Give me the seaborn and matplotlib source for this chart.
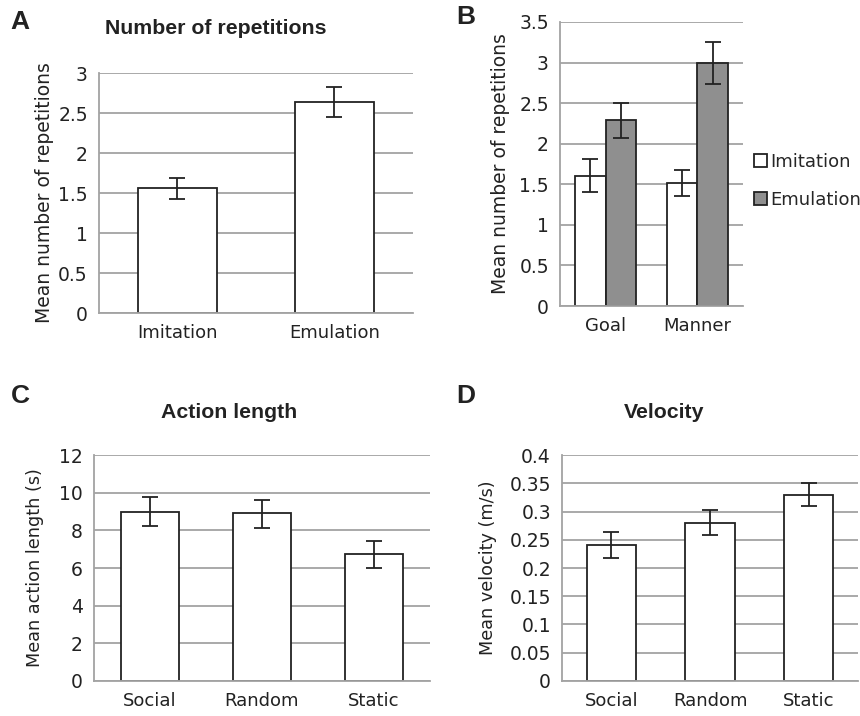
import numpy as np
import pandas as pd
import seaborn as sns
import matplotlib.pyplot as plt

# panel A
reps_cond = ['Imitation', 'Emulation']
reps_mean = [1.56, 2.64]
reps_lo = [1.43, 2.45]
reps_hi = [1.69, 2.82]

# panel B
task = ['Goal', 'Manner']
b_imit_mean = [1.60, 1.51]
b_imit_lo = [1.40, 1.35]
b_imit_hi = [1.81, 1.67]
b_emul_mean = [2.29, 3.00]
b_emul_lo = [2.07, 2.73]
b_emul_hi = [2.50, 3.25]

# panels C and D
stim = ['Social', 'Random', 'Static']
len_mean = [9.0, 8.9, 6.75]
len_lo = [8.25, 8.15, 6.0]
len_hi = [9.75, 9.6, 7.45]
vel_mean = [0.24, 0.28, 0.33]
vel_lo = [0.217, 0.258, 0.309]
vel_hi = [0.263, 0.302, 0.351]

sns.set_style('white')
plt.rcParams['font.family'] = ['DejaVu Sans']
GRID = '#a3a3a3'
EDGE = '#222222'


def style_axis(ax, ymax, step, ncat, fmt=None):
    ax.set_ylim(0, ymax)
    ticks = np.arange(0, ymax + step / 2, step)
    ax.set_yticks(ticks)
    if fmt is not None:
        ax.set_yticklabels([fmt(t) for t in ticks])
    ax.set_xlim(-0.5, ncat - 0.5)
    ax.yaxis.grid(True, color=GRID, linewidth=1.3)
    ax.set_axisbelow(True)
    for s in ['top', 'right']:
        ax.spines[s].set_visible(False)
    for s in ['left', 'bottom']:
        ax.spines[s].set_color(GRID)
        ax.spines[s].set_linewidth(1.3)
    ax.set_xticks(np.arange(-0.5, ncat), minor=True)
    ax.tick_params(axis='x', which='major', length=0, labelsize=13, pad=8, colors='#222222')
    ax.tick_params(axis='x', which='minor', length=5, width=1.3, color=GRID)
    ax.tick_params(axis='y', length=5, width=1.3, color=GRID, labelsize=13.5, pad=3, labelcolor='#222222')
    ax.set_xlabel('')


def add_err(ax, container, lo, hi):
    xs = [p.get_x() + p.get_width() / 2 for p in container.patches]
    ys = [p.get_height() for p in container.patches]
    ax.errorbar(xs, ys, yerr=[np.array(ys) - lo, np.array(hi) - ys], fmt='none',
                ecolor=EDGE, elinewidth=1.3, capsize=5.5, capthick=1.3)


fig = plt.figure(figsize=(8.6, 7.16), dpi=100)
axA = fig.add_axes([0.1151, 0.5628, 0.3651, 0.3352])
axB = fig.add_axes([0.6512, 0.5726, 0.2128, 0.3967])
axC = fig.add_axes([0.1093, 0.0489, 0.3907, 0.3156])
axD = fig.add_axes([0.6535, 0.0489, 0.3442, 0.3156])

# A
dfA = pd.DataFrame({'cond': reps_cond, 'mean': reps_mean})
sns.barplot(data=dfA, x='cond', y='mean', color='white', edgecolor=EDGE, linewidth=1.3,
            width=0.5, errorbar=None, ax=axA)
add_err(axA, axA.containers[0], reps_lo, reps_hi)
style_axis(axA, 3, 0.5, 2, fmt=lambda t: '%g' % t)
axA.set_ylabel('Mean number of repetitions', fontsize=13.5, color='#222222', labelpad=3)

# B
dfB = pd.DataFrame({'task': task * 2,
                    'group': ['Imitation'] * 2 + ['Emulation'] * 2,
                    'mean': b_imit_mean + b_emul_mean})
sns.barplot(data=dfB, x='task', y='mean', hue='group', palette=['white', '#8f8f8f'],
            edgecolor=EDGE, linewidth=1.3, width=0.67, gap=0, errorbar=None, ax=axB)
add_err(axB, axB.containers[0], b_imit_lo, b_imit_hi)
add_err(axB, axB.containers[1], b_emul_lo, b_emul_hi)
style_axis(axB, 3.5, 0.5, 2, fmt=lambda t: '%g' % t)
axB.set_ylabel('Mean number of repetitions', fontsize=13.5, color='#222222', labelpad=7)
axB.legend(loc='center left', bbox_to_anchor=(1.0, 0.44), frameon=False, fontsize=13,
           handlelength=0.7, handleheight=0.7, handletextpad=0.2, labelspacing=1.1,
           borderaxespad=0.2)

# C
dfC = pd.DataFrame({'stim': stim, 'mean': len_mean})
sns.barplot(data=dfC, x='stim', y='mean', color='white', edgecolor=EDGE, linewidth=1.3,
            width=0.52, errorbar=None, ax=axC)
add_err(axC, axC.containers[0], len_lo, len_hi)
style_axis(axC, 12, 2, 3)
axC.set_ylabel('Mean action length (s)', fontsize=12.7, color='#222222', labelpad=11)

# D
dfD = pd.DataFrame({'stim': stim, 'mean': vel_mean})
sns.barplot(data=dfD, x='stim', y='mean', color='white', edgecolor=EDGE, linewidth=1.3,
            width=0.5, errorbar=None, ax=axD)
add_err(axD, axD.containers[0], vel_lo, vel_hi)
style_axis(axD, 0.4, 0.05, 3, fmt=lambda t: '%g' % round(t, 2))
axD.set_ylabel('Mean velocity (m/s)', fontsize=12.7, color='#222222', labelpad=9)

# titles and panel letters
tfont = dict(fontsize=15.3, fontweight='bold', family=['Liberation Sans', 'DejaVu Sans'],
             color='#222222', ha='center', va='center')
fig.text(216 / 860, 1 - 29 / 716, 'Number of repetitions', **tfont)
fig.text(229 / 860, 1 - 412 / 716, 'Action length', **tfont)
fig.text(664 / 860, 1 - 412 / 716, 'Velocity', **tfont)
lfont = dict(fontsize=19, fontweight='bold', family=['Liberation Sans', 'DejaVu Sans'],
             color='#222222', ha='center', va='center')
fig.text(20 / 860, 1 - 22 / 716, 'A', **lfont)
fig.text(466 / 860, 1 - 17 / 716, 'B', **lfont)
fig.text(20 / 860, 1 - 396 / 716, 'C', **lfont)
fig.text(466 / 860, 1 - 396 / 716, 'D', **lfont)

fig.savefig('out.png', dpi=100)
